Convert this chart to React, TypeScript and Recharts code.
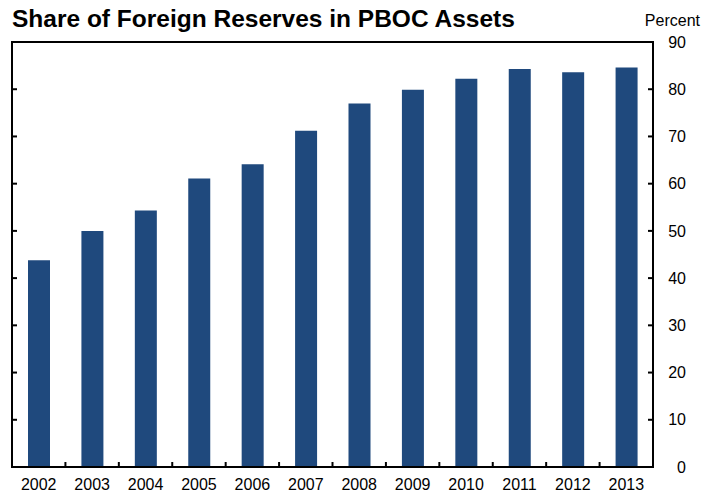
import React from 'react';
import { BarChart, Bar, XAxis, YAxis, ReferenceArea, CartesianGrid } from 'recharts';

const years = ['2002', '2003', '2004', '2005', '2006', '2007', '2008', '2009', '2010', '2011', '2012', '2013'];
const shares = [43.8, 50.0, 54.3, 61.1, 64.1, 71.2, 77.0, 79.9, 82.2, 84.3, 83.6, 84.6];
const yTicks = [0, 10, 20, 30, 40, 50, 60, 70, 80, 90];

const data = years.map((year, i) => ({ year, share: shares[i] }));

const font = '"Liberation Sans", Arial, sans-serif';
const TICK = 5;

// boundaries between years, for the small upward ticks on the bottom axis
const categoryEdges = ({ offset }: any) =>
  years.slice(1).map((_, i) => offset.left + ((i + 1) * offset.width) / years.length);

const VerticalMark = (p: any) => (
  <line key={p.key} x1={p.x1} x2={p.x2} y1={p.y2 - TICK} y2={p.y2} stroke="#000" strokeWidth={2} />
);

// inward tick marks on both sides of the frame
const HorizontalMark = (p: any) => (
  <g key={p.key}>
    <line x1={p.x1} x2={p.x1 + TICK} y1={p.y1} y2={p.y2} stroke="#000" strokeWidth={2} />
    <line x1={p.x2 - TICK} x2={p.x2} y1={p.y1} y2={p.y2} stroke="#000" strokeWidth={2} />
  </g>
);

export default function App() {
  return (
    <div style={{ position: 'absolute', left: 0, top: 0, width: 702, height: 494, background: '#fff', fontFamily: font }}>
      <div style={{ position: 'absolute', left: 12, top: 5, fontSize: 24.5, fontWeight: 'bold', color: '#000', whiteSpace: 'nowrap' }}>
        Share of Foreign Reserves in PBOC Assets
      </div>
      <div style={{ position: 'absolute', right: 2, top: 12, fontSize: 16, color: '#000' }}>Percent</div>
      <BarChart width={702} height={494} data={data} margin={{ top: 42, right: 0, left: 12, bottom: 0 }}>
        <CartesianGrid yAxisId="pct" horizontal={HorizontalMark} vertical={VerticalMark}
          verticalCoordinatesGenerator={categoryEdges} />
        <XAxis dataKey="year" height={27} tickLine={false} axisLine={{ stroke: '#000', strokeWidth: 2 }}
          tickSize={0} tickMargin={12} tick={{ fill: '#000', fontSize: 16, fontFamily: font }} interval={0} />
        <YAxis yAxisId="pct" orientation="right" width={49} domain={[0, 90]} ticks={yTicks}
          axisLine={{ stroke: '#000', strokeWidth: 2 }} tickLine={false} tickSize={0} tickMargin={33}
          tick={{ fill: '#000', fontSize: 16, fontFamily: font, textAnchor: 'end' }} />
        <Bar yAxisId="pct" dataKey="share" fill="#1f497d" barSize={22} isAnimationActive={false} />
        {/* plot frame */}
        <ReferenceArea yAxisId="pct" x1={years[0]} x2={years[years.length - 1]} y1={0} y2={90}
          fill="none" stroke="#000" strokeWidth={2} />
      </BarChart>
    </div>
  );
}
